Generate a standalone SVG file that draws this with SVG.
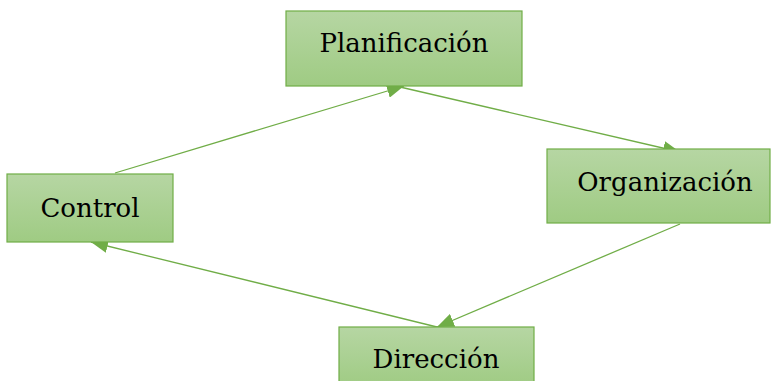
<svg xmlns="http://www.w3.org/2000/svg" width="771" height="381" viewBox="0 0 771 381">
<style>
.box{fill:url(#g);stroke:#70ad47;stroke-width:1.2}
.lbl{font-family:'DejaVu Serif','Liberation Serif',serif;font-size:26px;fill:#000;text-anchor:middle}
.edge{stroke:#70ad47;stroke-width:1.3;fill:none;marker-end:url(#ah)}
</style>
<defs>
<linearGradient id="g" x1="0" y1="0" x2="0" y2="1">
<stop offset="0" stop-color="#b6d6a3"/>
<stop offset="1" stop-color="#9fcb83"/>
</linearGradient>
<marker id="ah" viewBox="0 0 10 10" refX="10" refY="5" markerWidth="17" markerHeight="14" markerUnits="userSpaceOnUse" orient="auto" preserveAspectRatio="none">
<path d="M0,0 L10,5 L0,10 z" fill="#70ad47"/>
</marker>
</defs>
<g id="connectors">
<line class="edge" x1="115" y1="173" x2="404" y2="86"/>
<line class="edge" x1="400" y1="87" x2="680" y2="152"/>
<line class="edge" x1="680" y1="224" x2="437" y2="327"/>
<line class="edge" x1="437" y1="327" x2="91" y2="242"/>
</g>
<g id="planificacion">
<rect class="box" x="286" y="11" width="236" height="75"/>
<text class="lbl" x="404" y="52">Planificación</text>
</g>
<g id="control">
<rect class="box" x="7" y="174" width="166" height="68"/>
<text class="lbl" x="90" y="217">Control</text>
</g>
<g id="organizacion">
<rect class="box" x="547" y="149" width="223" height="74"/>
<text class="lbl" x="665" y="191">Organización</text>
</g>
<g id="direccion">
<rect class="box" x="339" y="327" width="195" height="60"/>
<text class="lbl" x="436" y="368">Dirección</text>
</g>
</svg>
